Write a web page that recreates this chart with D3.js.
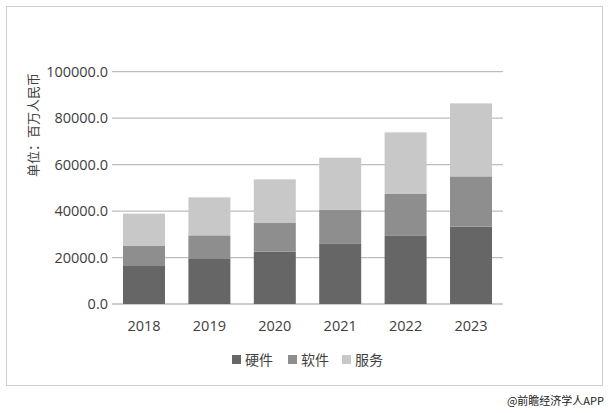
<!DOCTYPE html><html><head><meta charset="utf-8"><script src="https://cdn.jsdelivr.net/npm/d3@7"></script>
<style>body{margin:0;background:#fff}</style></head><body><svg id="c" width="610" height="413"></svg>
<script>
const years=["2018","2019","2020","2021","2022","2023"];
const hardware=[16350,19370,22520,26110,29550,33290];
const software=[8610,10180,12340,14490,17800,21660];
const services=[13940,16350,18800,22380,26540,31420];
const yTicks=[0,20000,40000,60000,80000,100000];
const seriesNames=["硬件","软件","服务"];
const colors=["#666666","#8e8e8e","#c8c8c8"];
const svg=d3.select("#c");
svg.append("rect").attr("x",6.5).attr("y",6.5).attr("width",596).attr("height",379).attr("fill","none").attr("stroke","#cfcfcf");
const x=d3.scaleBand().domain(years).range([112,503]).paddingInner(0.358).paddingOuter(0.168);
const y=d3.scaleLinear().domain([0,100000]).range([304,71.7]);
const font="'Open Sans','Noto Sans CJK SC',sans-serif";
svg.append("g").selectAll("line").data(yTicks).join("line").attr("x1",112).attr("x2",503).attr("y1",d=>y(d)).attr("y2",d=>y(d)).attr("stroke","#bdbdbd").attr("stroke-width",1.3);
svg.append("g").selectAll("text").data(yTicks).join("text").attr("x",108).attr("y",d=>y(d)+5).attr("text-anchor","end").attr("font-family",font).attr("font-size",14.5).attr("fill","#404040").text(d=>d.toFixed(1));
const data=years.map((yr,i)=>({year:yr,硬件:hardware[i],软件:software[i],服务:services[i]}));
const stack=d3.stack().keys(seriesNames)(data);
svg.append("g").selectAll("g").data(stack).join("g").attr("fill",(d,i)=>colors[i]).selectAll("rect").data(d=>d).join("rect")
 .attr("x",d=>x(d.data.year)).attr("width",x.bandwidth()).attr("y",d=>y(d[1])).attr("height",d=>y(d[0])-y(d[1]));
svg.append("g").selectAll("text").data(years).join("text").attr("x",d=>x(d)+x.bandwidth()/2).attr("y",331).attr("text-anchor","middle").attr("font-family",font).attr("font-size",14.5).attr("fill","#404040").text(d=>d);
svg.append("text").attr("transform","translate(38,125) rotate(-90)").attr("text-anchor","middle").attr("font-family","'Noto Sans CJK SC',sans-serif").attr("font-size",13).attr("fill","#404040").text("单位：百万人民币");
const lg=svg.append("g");
const lx=[232,288,342];
seriesNames.forEach((n,i)=>{lg.append("rect").attr("x",lx[i]).attr("y",355).attr("width",9).attr("height",9).attr("fill",colors[i]);
 lg.append("text").attr("x",lx[i]+13).attr("y",365).attr("font-family","'Noto Sans CJK SC',sans-serif").attr("font-size",14).attr("fill","#404040").text(n);});
svg.append("text").attr("x",604).attr("y",405).attr("text-anchor","end").attr("font-family","'Noto Sans CJK SC',sans-serif").attr("font-size",11).attr("fill","#222").text("@前瞻经济学人APP");
</script></body></html>
